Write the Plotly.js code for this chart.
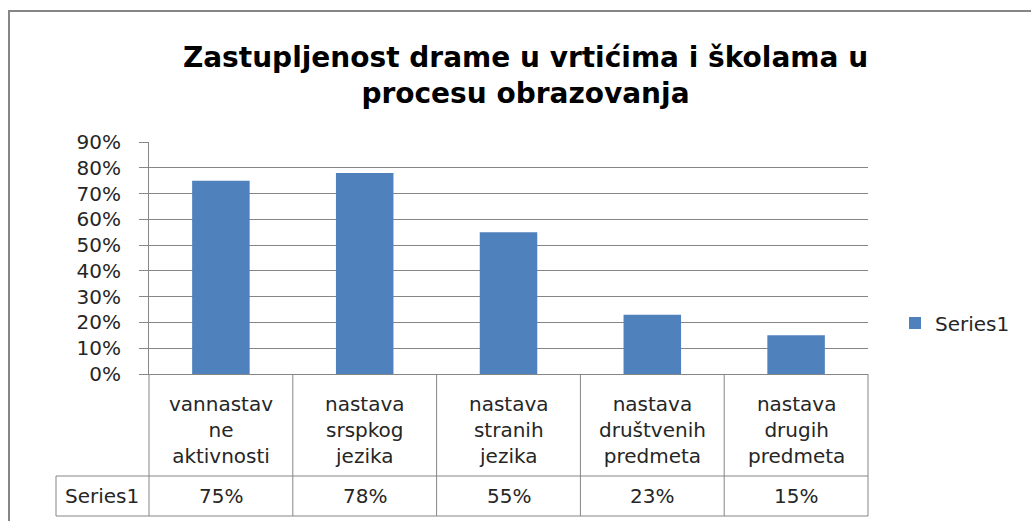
<!DOCTYPE html>
<html>
<head>
<meta charset="utf-8">
<script src="https://cdn.plot.ly/plotly-3.0.1.min.js"></script>
<style>
  html, body { margin: 0; padding: 0; background: #ffffff; }
  #chart { width: 1031px; height: 521px; }
</style>
</head>
<body>
<div id="chart"></div>
<script>
// ---- data ----
const categories = [
  'vannastavne aktivnosti',
  'nastava srspkog jezika',
  'nastava stranih jezika',
  'nastava društvenih predmeta',
  'nastava drugih predmeta'
];
const categoryLabels = [
  'vannastav<br>ne<br>aktivnosti',
  'nastava<br>srspkog<br>jezika',
  'nastava<br>stranih<br>jezika',
  'nastava<br>društvenih<br>predmeta',
  'nastava<br>drugih<br>predmeta'
];
const seriesName = 'Series1';
const values = [0.75, 0.78, 0.55, 0.23, 0.15];
const titleText = 'Zastupljenost drame u vrtićima i školama u<br>procesu obrazovanja';

// ---- layout geometry ----
const W = 1031, H = 521;
const M = { l: 149, r: 163, t: 142, b: 147 };
const PW = W - M.l - M.r, PH = H - M.t - M.b;
const px2x = px => (px - M.l) / PW;
const py2y = py => (H - M.b - py) / PH;

const gray = '#868686';
const textColor = '#262626';
const font = { family: 'DejaVu Sans, Verdana, sans-serif', size: 20, color: textColor };

const shapes = [];
// outer chart border
shapes.push({ type: 'rect', xref: 'paper', yref: 'paper',
  x0: px2x(9), x1: px2x(1045), y0: py2y(11), y1: py2y(535),
  line: { color: gray, width: 2 }, fillcolor: 'rgba(0,0,0,0)', layer: 'below' });
// data-table verticals at category boundaries
const tableBottom = py2y(516), rowSplit = py2y(476), tableLeft = px2x(56);
for (let k = 0; k <= categories.length; k++) {
  shapes.push({ type: 'line', xref: 'paper', yref: 'paper',
    x0: k / categories.length, x1: k / categories.length, y0: 0, y1: tableBottom,
    line: { color: gray, width: 1 } });
}
[rowSplit, tableBottom].forEach(y => shapes.push({ type: 'line', xref: 'paper', yref: 'paper',
  x0: tableLeft, x1: 1, y0: y, y1: y, line: { color: gray, width: 1 } }));
shapes.push({ type: 'line', xref: 'paper', yref: 'paper',
  x0: tableLeft, x1: tableLeft, y0: rowSplit, y1: tableBottom, line: { color: gray, width: 1 } });

const annotations = [];
categories.forEach((c, i) => {
  annotations.push({ xref: 'x', yref: 'paper', x: c, y: py2y(430), xanchor: 'center', yanchor: 'middle',
    text: categoryLabels[i], showarrow: false, font: font, align: 'center' });
  annotations.push({ xref: 'x', yref: 'paper', x: c, y: py2y(496), xanchor: 'center', yanchor: 'middle',
    text: Math.round(values[i] * 100) + '%', showarrow: false, font: font });
});
annotations.push({ xref: 'paper', yref: 'paper', x: px2x(102), y: py2y(496),
  xanchor: 'center', yanchor: 'middle',
  text: seriesName, showarrow: false, font: font });

const data = [{
  type: 'bar', name: seriesName, x: categories, y: values,
  marker: { color: '#4f81bd', line: { width: 0 } },
  hoverinfo: 'skip'
}];

const layout = {
  width: W, height: H,
  margin: M,
  paper_bgcolor: '#ffffff', plot_bgcolor: '#ffffff',
  font: font,
  title: {
    text: titleText,
    font: { family: 'DejaVu Sans, sans-serif', size: 28, color: '#000000', weight: 'bold' },
    xref: 'container', x: 525.5 / W, xanchor: 'center',
    yref: 'container', y: 1 - 67 / H, yanchor: 'top'
  },
  bargap: 0.6,
  showlegend: true,
  legend: {
    xref: 'container', x: 895 / W, xanchor: 'left',
    yref: 'container', y: 1 - 323 / H, yanchor: 'middle',
    font: font, bgcolor: 'rgba(0,0,0,0)', borderwidth: 0
  },
  xaxis: {
    type: 'category', showticklabels: false, ticks: '', showgrid: false,
    showline: true, linecolor: gray, linewidth: 1, zeroline: false, fixedrange: true
  },
  yaxis: {
    range: [0, 0.9], dtick: 0.1, tick0: 0, tickformat: '.0%',
    showgrid: true, gridcolor: gray, gridwidth: 1,
    showline: true, linecolor: gray, linewidth: 1,
    ticks: 'outside', ticklen: 9, tickcolor: gray, tickwidth: 1,
    ticklabelstandoff: 14, zeroline: false, fixedrange: true,
    tickfont: font
  },
  shapes: shapes,
  annotations: annotations
};

Plotly.newPlot('chart', data, layout, { displayModeBar: false, staticPlot: true });
</script>
</body>
</html>
